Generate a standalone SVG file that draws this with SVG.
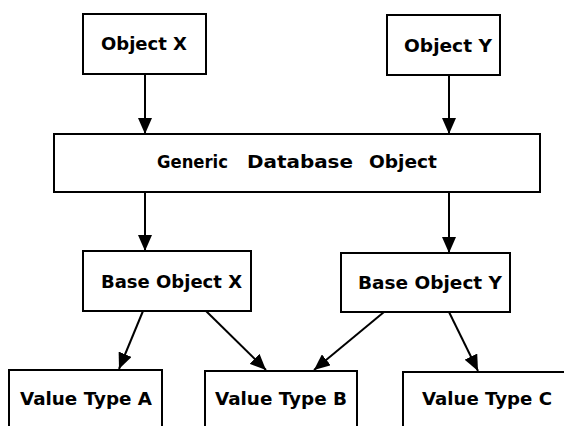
<svg xmlns="http://www.w3.org/2000/svg" width="564" height="426" viewBox="0 0 564 426">
<style>
.box{fill:#fff;stroke:#000;stroke-width:2}
.lbl{font-family:"DejaVu Sans","Liberation Sans",sans-serif;font-size:17px;font-weight:bold;fill:#000}
.conn{stroke:#000;stroke-width:2;fill:none;marker-end:url(#ah)}
</style>
<defs>
<marker id="ah" viewBox="0 0 16 14" refX="16" refY="7" markerWidth="16" markerHeight="14" markerUnits="userSpaceOnUse" orient="auto">
<path d="M0,0 L16,7 L0,14 Z" fill="#000"/>
</marker>
</defs>
<rect width="564" height="426" fill="#fff"/>
<g id="objX"><rect class="box" x="83" y="14" width="123" height="60"/><text class="lbl" x="101" y="50" textLength="86" lengthAdjust="spacingAndGlyphs">Object X</text></g>
<g id="objY"><rect class="box" x="387" y="15" width="113" height="60"/><text class="lbl" x="404" y="52" textLength="88" lengthAdjust="spacingAndGlyphs">Object Y</text></g>
<g id="generic"><rect class="box" x="54" y="134" width="486" height="58"/><text class="lbl" y="168"><tspan x="157" textLength="71" lengthAdjust="spacingAndGlyphs">Generic</tspan><tspan x="247" textLength="106" lengthAdjust="spacingAndGlyphs">Database</tspan><tspan x="369" textLength="68" lengthAdjust="spacingAndGlyphs">Object</tspan></text></g>
<g id="baseX"><rect class="box" x="83" y="251" width="168" height="60"/><text class="lbl" x="101" y="288" textLength="141" lengthAdjust="spacingAndGlyphs">Base Object X</text></g>
<g id="baseY"><rect class="box" x="341" y="253" width="169" height="59"/><text class="lbl" x="358" y="289" textLength="144" lengthAdjust="spacingAndGlyphs">Base Object Y</text></g>
<g id="vtA"><rect class="box" x="9" y="370" width="153" height="70"/><text class="lbl" x="20" y="405" textLength="132" lengthAdjust="spacingAndGlyphs">Value Type A</text></g>
<g id="vtB"><rect class="box" x="205" y="371" width="152" height="70"/><text class="lbl" x="215" y="405" textLength="132" lengthAdjust="spacingAndGlyphs">Value Type B</text></g>
<g id="vtC"><rect class="box" x="403" y="372" width="180" height="70"/><text class="lbl" x="422" y="405" textLength="130" lengthAdjust="spacingAndGlyphs">Value Type C</text></g>
<g id="connectors">
<line class="conn" x1="145" y1="74" x2="145" y2="134"/>
<line class="conn" x1="449" y1="75" x2="449" y2="134"/>
<line class="conn" x1="145" y1="192" x2="145" y2="251"/>
<line class="conn" x1="449" y1="192" x2="449" y2="253"/>
<line class="conn" x1="143" y1="311" x2="119" y2="369"/>
<line class="conn" x1="206" y1="311" x2="266" y2="370"/>
<line class="conn" x1="384" y1="312" x2="314" y2="370"/>
<line class="conn" x1="449" y1="312" x2="478" y2="371"/>
</g>
</svg>
